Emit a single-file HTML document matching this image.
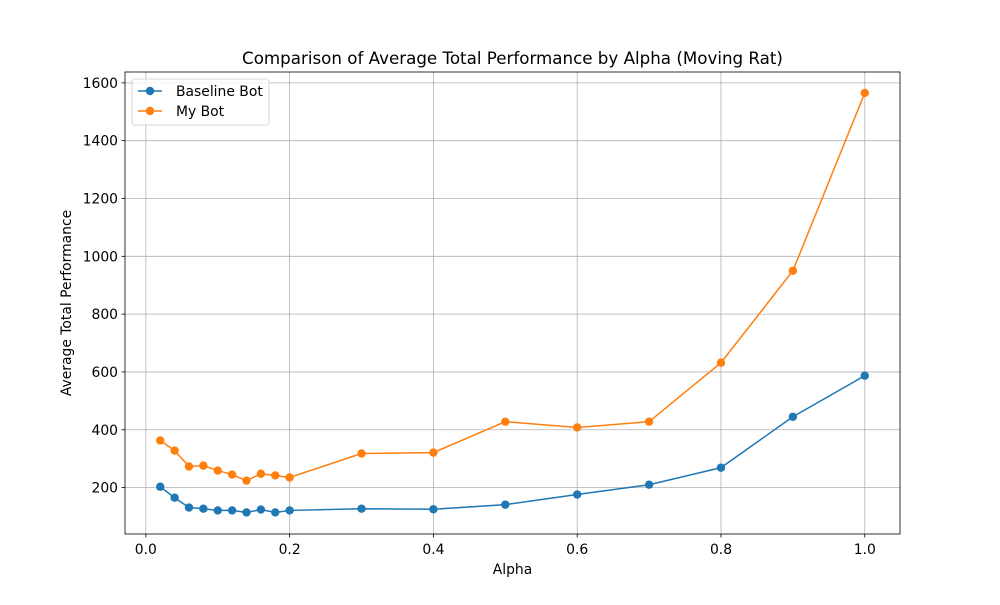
<!DOCTYPE html>
<html><head><meta charset="utf-8"><style>
body{margin:0;background:#fff;font-family:"Liberation Sans","DejaVu Sans",sans-serif}
svg text{font-family:"DejaVu Sans","Liberation Sans",sans-serif}
</style></head><body>
<svg id="chart" width="1000" height="600" xmlns="http://www.w3.org/2000/svg"></svg>
<script>
const alphas=[0.02,0.04,0.06,0.08,0.1,0.12,0.14,0.16,0.18,0.2,0.3,0.4,0.5,0.6,0.7,0.8,0.9,1.0];
const baseline=[203,165,131,127,121,121,114,124,114,121,127,125,141,176,210,269,445,587];
const mybot=[363,328,273,276,259,245,224,248,242,235,318,321,428,408,428,632,950,1565];
const xTicks=[0,0.2,0.4,0.6,0.8,1.0];
const xTickLabels=["0.0","0.2","0.4","0.6","0.8","1.0"];
const yTicks=[200,400,600,800,1000,1200,1400,1600];
const L=125,R=900,T=72,B=534;
const xmin=-0.029,xmax=1.049,ymin=39.5,ymax=1637.5;
const sx=v=>L+(v-xmin)/(xmax-xmin)*(R-L);
const sy=v=>B-(v-ymin)/(ymax-ymin)*(B-T);
const svg=document.getElementById('chart');
const NS='http://www.w3.org/2000/svg';
function mk(tag,attrs,parent){const e=document.createElementNS(NS,tag);for(const k in attrs)e.setAttribute(k,attrs[k]);(parent||svg).appendChild(e);return e;}
const FS=13.9;
xTicks.forEach((t,i)=>{const x=sx(t);
 let g=mk('line',{x1:x,x2:x,y1:T,y2:B,stroke:'#b0b0b0','stroke-width':0.8});
 
 mk('line',{x1:x,x2:x,y1:B,y2:B+3.5,stroke:'#000','stroke-width':0.8});
 let tx=mk('text',{x:x,y:B+20,'text-anchor':'middle','font-size':FS,fill:'#000'});tx.textContent=xTickLabels[i];
 });
yTicks.forEach(t=>{const y=sy(t);
 let g=mk('line',{x1:L,x2:R,y1:y,y2:y,stroke:'#b0b0b0','stroke-width':0.8});
 
 mk('line',{x1:L-3.5,x2:L,y1:y,y2:y,stroke:'#000','stroke-width':0.8});
 let tx=mk('text',{x:L-7,y:y+5,'text-anchor':'end','font-size':FS,fill:'#000'});tx.textContent=t;
 });
function series(vals,color,name){
 const p=mk('polyline',{points:alphas.map((a,i)=>sx(a)+','+sy(vals[i])).join(' '),fill:'none',stroke:color,'stroke-width':1.5});
 
 alphas.forEach((a,i)=>{const c=mk('circle',{cx:sx(a),cy:sy(vals[i]),r:4.2,fill:color});
  });
}
series(baseline,'#1f77b4','baseline-bot');
series(mybot,'#ff7f0e','my-bot');
const fr=mk('rect',{x:L,y:T,width:R-L,height:B-T,fill:'none',stroke:'#000','stroke-width':0.8});

let t=mk('text',{x:(L+R)/2,y:T-8,'text-anchor':'middle','font-size':16.7,fill:'#000'});t.textContent='Comparison of Average Total Performance by Alpha (Moving Rat)';

t=mk('text',{x:(L+R)/2,y:574,'text-anchor':'middle','font-size':FS,fill:'#000'});t.textContent='Alpha';

t=mk('text',{x:0,y:0,'text-anchor':'middle','font-size':FS,fill:'#000',transform:'translate(71,303) rotate(-90)'});t.textContent='Average Total Performance';

const lg=mk('g',{});

mk('rect',{x:132,y:79,width:137,height:46,rx:3,fill:'#fff','fill-opacity':0.8,stroke:'#ccc','stroke-width':0.8},lg);
[['Baseline Bot','#1f77b4',91],['My Bot','#ff7f0e',111]].forEach(([n,c,y])=>{
 const e=mk('g',{},lg);
 
 mk('line',{x1:138,x2:162,y1:y,y2:y,stroke:c,'stroke-width':1.5},e);
 mk('circle',{cx:150,cy:y,r:4.2,fill:c},e);
 const tx=mk('text',{x:176,y:y+5,'font-size':FS,fill:'#000'},e);tx.textContent=n;});
</script>
</body></html>
